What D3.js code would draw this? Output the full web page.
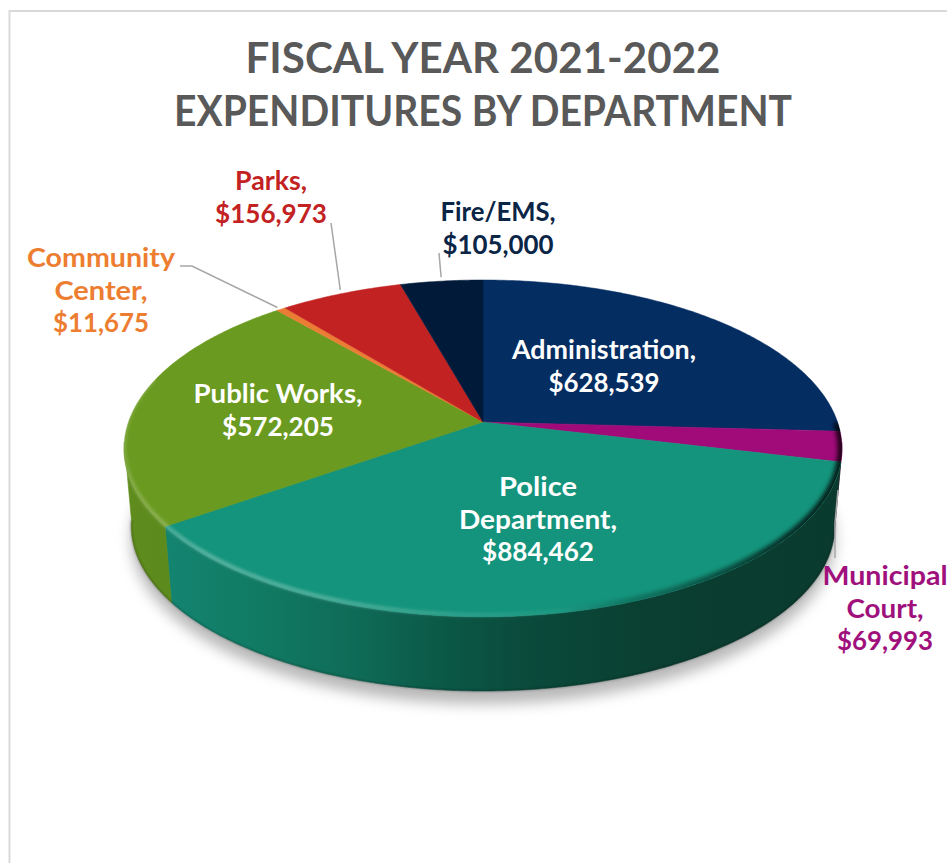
<!DOCTYPE html>
<html>
<head>
<meta charset="utf-8">
<script src="https://cdn.jsdelivr.net/npm/d3@7/dist/d3.min.js"></script>
<style>
  html, body { margin: 0; background: #fff; }
  svg { display: block; }
  text { font-family: Lato, "Open Sans", sans-serif; font-weight: 700; text-anchor: middle; }
</style>
</head>
<body>
<script>
// Departments in pie order, clockwise from twelve o'clock
const departments = ["Administration", "Municipal Court", "Police Department", "Public Works", "Community Center", "Parks", "Fire/EMS"];
const expenditures = [628539, 69993, 884462, 572205, 11675, 156973, 105000];
const labelLines = [["Administration,"], ["Municipal", "Court,"], ["Police", "Department,"], ["Public Works,"], ["Community", "Center,"], ["Parks,"], ["Fire/EMS,"]];
const titleLines = ["FISCAL YEAR 2021-2022", "EXPENDITURES BY DEPARTMENT"];

const sliceColors = ["#042d62", "#a10a79", "#14947c", "#6a9a1f", "#ea7d33", "#c32222", "#021a3a"];
const labelColors = ["#ffffff", "#a0107c", "#ffffff", "#ffffff", "#ed7d31", "#c32222", "#0b2547"];

// Label layout: centre x, first baseline, and the set width of each row
const labelX = [604, 885, 538, 278, 101, 271, 498];
const labelY = [359, 585, 496, 403, 267, 190, 221];
const labelWidths = [[184, 111], [125, 77, 96], [78, 158, 112], [169, 112], [148, 93, 96], [72, 112], [115, 111]];
const titleWidths = [475, 618];

const W = 947, H = 863;
const svg = d3.select("body").append("svg").attr("width", W).attr("height", H);
const defs = svg.append("defs");

// Projective view of a tilted disc
const view = { x0: 483, y0: 422, a: 354.5, b: 164.3, k: 0.157 };
const base = { y0: 500, scale: 0.98 };

function topPoint(t) {
  const u = Math.sin(t), v = -Math.cos(t), w = 1 - view.k * v;
  return [view.x0 + view.a * u / w, view.y0 + view.b * v / w];
}
function basePoint(t) {
  const u = Math.sin(t), v = -Math.cos(t), w = 1 - view.k * v;
  return [view.x0 + base.scale * view.a * u / w, base.y0 + base.scale * view.b * v / w];
}
function sweep(a0, a1, fn) {
  const n = Math.max(2, Math.ceil(Math.abs(a1 - a0) / 0.01));
  return d3.range(n + 1).map(i => fn(a0 + (a1 - a0) * i / n));
}
const deg = d => d * Math.PI / 180;
const line = d3.line();
const pie = d3.pie().sort(null).startAngle(0).endAngle(2 * Math.PI);
const slices = pie(expenditures);
const TAU = 2 * Math.PI;

// Filters
const blur = (id, s) => defs.append("filter").attr("id", id)
  .attr("x", "-20%").attr("y", "-20%").attr("width", "140%").attr("height", "140%")
  .append("feGaussianBlur").attr("stdDeviation", s);
blur("shadowBlur", 7);
blur("rimBlur", 2.2);
blur("ridgeBlur", 1.4);
blur("edgeBlur", 1);

function xGradient(id, stops) {
  const g = defs.append("linearGradient").attr("id", id)
    .attr("gradientUnits", "userSpaceOnUse").attr("x1", 120).attr("x2", 845).attr("y1", 0).attr("y2", 0);
  stops.forEach(s => g.append("stop")
    .attr("offset", (s[0] - 120) / 725)
    .attr("stop-color", s[1])
    .attr("stop-opacity", s[2] === undefined ? 1 : s[2]));
}
xGradient("policeSide", [[170, "#138470"], [260, "#117a63"], [360, "#0e6a56"], [450, "#0b5746"], [530, "#0a4a3b"], [650, "#0a3f31"], [845, "#0a3a2e"]]);
xGradient("greenSide", [[123, "#5f8c1d"], [172, "#5c8a1c"]]);
xGradient("rimLight", [[123, "#ffffff", 0.16], [200, "#ffffff", 0.3], [330, "#ffffff", 0.26], [480, "#ffffff", 0.1], [620, "#ffffff", 0]]);
xGradient("rimDark", [[560, "#000000", 0], [680, "#000000", 0.35], [790, "#000000", 0.7], [845, "#000000", 0.8]]);

// Chart frame: top and left edges
svg.append("path")
  .attr("d", line([[9.5, H], [9.5, 11], [W, 11]]))
  .attr("fill", "none").attr("stroke", "#d9d9d9").attr("stroke-width", 2);

// Soft ground shadow beneath the disc
svg.append("path")
  .attr("d", line(sweep(0, TAU, basePoint)) + "Z")
  .attr("transform", "translate(0,13)")
  .attr("fill", "#000").attr("fill-opacity", 0.28)
  .attr("filter", "url(#shadowBlur)");

// Front wall: only the angular span that faces the viewer
const wallFrom = deg(97), wallTo = deg(263);
const wallFill = i => i === 2 ? "url(#policeSide)" : i === 3 ? "url(#greenSide)" : d3.color(sliceColors[i]).darker(1.6);
const wallSpans = slices.map((s, i) => ({
  i, a0: Math.max(s.startAngle, wallFrom), a1: Math.min(s.endAngle, wallTo)
})).filter(s => s.a1 > s.a0);

svg.append("g").selectAll("path").data(wallSpans).join("path")
  .attr("d", s => line(sweep(s.a0, s.a1, topPoint).concat(sweep(s.a1, s.a0, basePoint))) + "Z")
  .attr("fill", s => wallFill(s.i))
  .attr("stroke", s => wallFill(s.i)).attr("stroke-width", 0.6);

// Thin dark lip along the bottom of the wall
svg.append("path")
  .attr("d", line(sweep(wallFrom, wallTo, basePoint)))
  .attr("fill", "none").attr("stroke", "#000").attr("stroke-opacity", 0.3)
  .attr("stroke-width", 1.5).attr("filter", "url(#edgeBlur)");

// Top faces
const facePath = s => line([[view.x0, view.y0]].concat(sweep(s.startAngle, s.endAngle, topPoint))) + "Z";
svg.append("g").selectAll("path").data(slices).join("path")
  .attr("d", facePath)
  .attr("fill", (d, i) => sliceColors[i])
  .attr("stroke", (d, i) => sliceColors[i]).attr("stroke-width", 0.5);

// Bevel: a light ridge towards the left, shading towards the right
defs.append("clipPath").attr("id", "faceClip").append("path")
  .attr("d", line(sweep(0, TAU, topPoint)) + "Z");
const rim = svg.append("g").attr("clip-path", "url(#faceClip)");
rim.append("path")
  .attr("d", line(sweep(deg(90), deg(200), topPoint)))
  .attr("fill", "none").attr("stroke", "url(#rimDark)").attr("stroke-width", 9)
  .attr("filter", "url(#rimBlur)");
svg.append("path")
  .attr("d", line(sweep(deg(150), deg(285), topPoint)))
  .attr("fill", "none").attr("stroke", "url(#rimLight)").attr("stroke-width", 4)
  .attr("transform", "translate(0,-2)")
  .attr("filter", "url(#ridgeBlur)");

// Leader lines, running from each outside label to its slice
const midPoint = i => topPoint((slices[i].startAngle + slices[i].endAngle) / 2);
const leaders = [
  [[180, 266], [192, 266], midPoint(4)],
  [[331, 223], midPoint(5)],
  [[439, 253], midPoint(6)],
  [[838, 490], [835, 523], [835, 558]]
];
// Stop the label-to-slice leaders just short of the rim
const shorten = pts => {
  const n = pts.length - 1, [x1, y1] = pts[n - 1], [x2, y2] = pts[n];
  const len = Math.hypot(x2 - x1, y2 - y1), gap = 4 / len;
  return pts.slice(0, n).concat([[x2 - (x2 - x1) * gap, y2 - (y2 - y1) * gap]]);
};
svg.append("g").selectAll("path").data(leaders).join("path")
  .attr("d", (p, i) => line(i < 3 ? shorten(p) : p))
  .attr("fill", "none").attr("stroke", "#a6a6a6").attr("stroke-width", 1.5);

// Title
svg.append("g").selectAll("text").data(titleLines).join("text")
  .attr("x", 483).attr("y", (d, i) => 73 + i * 53)
  .attr("font-size", 41.5).attr("font-weight", 900).attr("fill", "#595959")
  .attr("textLength", (d, i) => titleWidths[i]).attr("lengthAdjust", "spacingAndGlyphs")
  .text(d => d);

// Slice labels: name rows followed by the formatted amount
const money = d3.format("$,");
const labelRows = departments.flatMap((d, i) =>
  labelLines[i].concat(money(expenditures[i])).map((text, j) => ({ text, i, j })));
svg.append("g").selectAll("text").data(labelRows).join("text")
  .attr("x", r => labelX[r.i])
  .attr("y", r => labelY[r.i] + r.j * 32.6)
  .attr("font-size", 26)
  .attr("fill", r => labelColors[r.i])
  .attr("textLength", r => labelWidths[r.i][r.j]).attr("lengthAdjust", "spacingAndGlyphs")
  .text(r => r.text);
</script>
</body>
</html>
